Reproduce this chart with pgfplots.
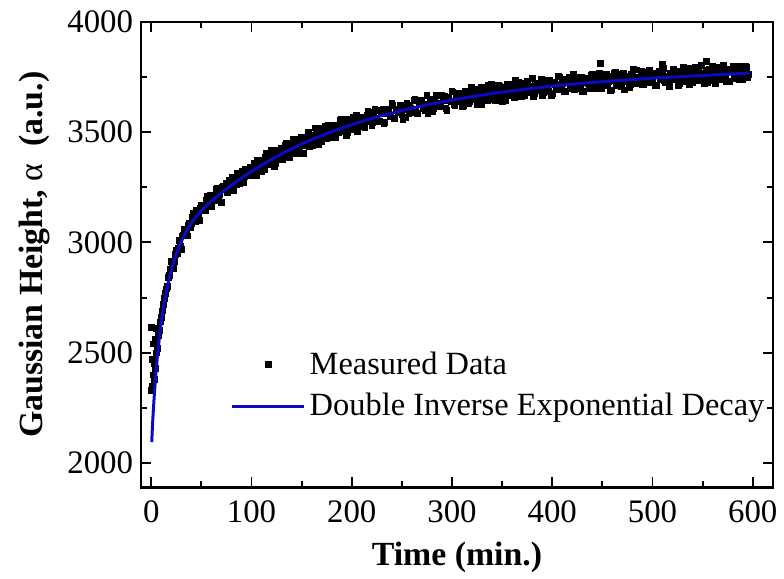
\documentclass[border=0pt]{standalone}
\usepackage{pgfplots}
\pgfplotsset{compat=1.18}
\usepackage{fontspec}
\setmainfont{Liberation Serif}
\definecolor{fitblue}{RGB}{10,10,195}
\begin{document}
\begin{tikzpicture}
\begin{axis}[
  name=ax,
  scale only axis, width=317.5pt, height=234pt,
  xmin=-10, xmax=620, ymin=1890, ymax=4000,
  clip mode=individual,
  xtick={0,100,...,600}, ytick={2000,2500,...,4000},
  minor x tick num=1, minor y tick num=1,
  tick align=inside, tick pos=both,
  major tick length=5pt, minor tick length=3pt,
  axis line style={line width=1.2pt},
  every tick/.style={line width=1pt, black},
  /pgf/number format/assume math mode=true,
  /pgf/number format/1000 sep={},
  ticklabel style={font=\fontsize{16.5}{19}\selectfont},
  yticklabel style={xshift=-0.6pt},
  xticklabel style={yshift=-3.4pt},
  xlabel={Time (min.)},
  ylabel={Gaussian Height, {\mdseries α}\ \ (a.u.)},
  every axis x label/.style={at={(axis description cs:0.5,-0.1496)},anchor=center},
  every axis y label/.style={at={(axis description cs:-0.1685,0.5)},rotate=90,anchor=center},
  label style={font=\bfseries\fontsize{17}{20}\selectfont},
  legend style={draw=none, fill=none, font=\fontsize{16.3}{19}\selectfont,
    at={(0.131,0.309)}, anchor=north west, row sep=4pt},
  legend cell align=left,
  legend image code/.code={\draw[mark repeat=2,mark phase=2,#1] plot coordinates {(0cm,0cm) (0.64cm,0cm) (1.28cm,0cm)};},
]
\addplot[only marks, mark=square*, mark size=1.45pt, black] coordinates {
(0,2615)(0,2330)(1,2350)(1,2470)(2,2400)(2,2540)(3,2380)(3,2450)(4,2430)(4,2560)
(5,2500)(5,2610)(6,2520)(7,2580)(8,2600)(9,2640)(10,2660)(11,2690)(12,2720)(13,2745)
(14,2770)(15,2790)(16,2800)(17,2840)(18,2850)(19,2880)
(20,2913)(22,2883)(24,2945)(26,2950)(28,3009)(30,2969)(32,3031)(34,3061)(36,3030)(38,3087)
(40,3084)(42,3132)(44,3094)(46,3125)(48,3100)(50,3169)(52,3162)(54,3146)(56,3209)(58,3174)
(60,3162)(62,3214)(64,3191)(66,3244)(68,3218)(70,3183)(72,3254)(74,3249)(76,3226)(78,3283)
(80,3254)(82,3234)(84,3289)(86,3315)(88,3268)(90,3296)(92,3270)(94,3330)(96,3318)(98,3302)
(100,3340)(102,3306)(104,3340)(106,3374)(108,3333)(110,3321)(112,3368)(114,3388)(116,3361)(118,3352)
(120,3417)(122,3386)(124,3359)(126,3406)(128,3387)(130,3426)(132,3388)(134,3441)(136,3412)(138,3387)
(140,3435)(142,3466)(144,3410)(146,3441)(148,3429)(150,3475)(152,3405)(154,3471)(156,3467)(158,3437)
(160,3487)(162,3463)(164,3519)(166,3463)(168,3482)(170,3456)(172,3501)(174,3525)(176,3476)(178,3506)
(180,3491)(182,3533)(184,3474)(186,3527)(188,3512)(190,3557)(192,3504)(194,3533)(196,3500)(198,3553)
(200,3532)(202,3567)(204,3526)(206,3503)(208,3558)(210,3569)(212,3527)(214,3560)(216,3593)(218,3550)
(220,3530)(222,3581)(224,3563)(226,3598)(228,3550)(230,3585)(232,3539)(234,3604)(236,3586)(238,3571)
(240,3629)(242,3563)(244,3605)(246,3588)(248,3624)(250,3582)(252,3602)(254,3568)(256,3622)(258,3614)
(260,3588)(262,3644)(264,3606)(266,3584)(268,3632)(270,3644)(272,3606)(274,3626)(276,3584)(278,3648)
(280,3638)(282,3606)(284,3667)(286,3625)(288,3617)(290,3667)(292,3644)(294,3608)(296,3660)(298,3642)
(300,3686)(302,3626)(304,3661)(306,3641)(308,3678)(310,3618)(312,3663)(314,3677)(316,3630)(318,3674)
(320,3657)(322,3695)(324,3646)(326,3668)(328,3633)(330,3693)(332,3678)(334,3656)(336,3711)(338,3668)
(340,3649)(342,3695)(344,3666)(346,3713)(348,3680)(350,3640)(352,3705)(354,3694)(356,3665)(358,3717)
(360,3682)(362,3657)(364,3706)(366,3727)(368,3674)(370,3697)(372,3666)(374,3722)(376,3705)(378,3684)
(380,3743)(382,3676)(384,3713)(386,3694)(388,3723)(390,3666)(392,3737)(394,3708)(396,3685)(398,3722)
(400,3675)(402,3728)(404,3709)(406,3752)(408,3697)(410,3720)(412,3684)(414,3739)(416,3726)(418,3697)
(420,3734)(422,3693)(424,3723)(426,3750)(428,3711)(430,3686)(432,3736)(434,3745)(436,3720)(438,3707)
(440,3763)(442,3728)(444,3697)(446,3739)(448,3720)(450,3755)(452,3710)(454,3764)(456,3729)(458,3691)
(460,3740)(462,3765)(464,3712)(466,3738)(468,3723)(470,3763)(472,3692)(474,3755)(476,3743)(478,3714)
(480,3761)(482,3733)(484,3782)(486,3726)(488,3743)(490,3714)(492,3752)(494,3773)(496,3725)(498,3752)
(500,3735)(502,3769)(504,3712)(506,3758)(508,3745)(510,3783)(512,3732)(514,3754)(516,3723)(518,3769)
(520,3750)(522,3778)(524,3739)(526,3713)(528,3766)(530,3770)(532,3731)(534,3757)(536,3788)(538,3746)
(540,3725)(542,3769)(544,3754)(546,3782)(548,3737)(550,3769)(552,3722)(554,3780)(556,3765)(558,3747)
(560,3800)(562,3736)(564,3777)(566,3757)(568,3792)(570,3748)(572,3767)(574,3731)(576,3784)(578,3774)
(580,3783)(582,3743)(584,3772)(586,3800)(588,3755)(590,3737)(592,3779)(594,3794)(596,3762)
(448,3812)(554,3822)(510,3808)(329,3626)
(21,2901)(23,2913)(25,2966)(27,2975)(29,2984)(31,3030)(33,3058)(35,3050)(37,3076)(39,3067)
(41,3116)(43,3114)(45,3148)(47,3125)(49,3154)(51,3168)(53,3150)(55,3191)(57,3182)(59,3212)
(61,3190)(63,3212)(65,3241)(67,3204)(69,3238)(71,3249)(73,3238)(75,3269)(77,3244)(79,3271)
(81,3295)(83,3278)(85,3264)(87,3305)(89,3299)(91,3323)(93,3297)(95,3325)(97,3319)(99,3343)
(101,3309)(103,3359)(105,3303)(107,3353)(109,3372)(111,3346)(113,3333)(115,3403)(117,3374)(119,3355)
(121,3394)(123,3345)(125,3420)(127,3393)(129,3418)(131,3374)(133,3417)(135,3450)(137,3405)(139,3445)
(141,3404)(143,3434)(145,3469)(147,3405)(149,3461)(151,3439)(153,3479)(155,3439)(157,3501)(159,3461)
(161,3441)(163,3485)(165,3497)(167,3443)(169,3490)(171,3518)(173,3479)(175,3473)(177,3532)(179,3502)
(181,3529)(183,3477)(185,3522)(187,3499)(189,3556)(191,3515)(193,3542)(195,3485)(197,3558)(199,3523)
(201,3540)(203,3513)(205,3578)(207,3559)(209,3528)(211,3558)(213,3519)(215,3578)(217,3557)(219,3591)
(221,3546)(223,3606)(225,3561)(227,3547)(229,3586)(231,3602)(233,3543)(235,3585)(237,3602)(239,3572)
(241,3622)(243,3562)(245,3599)(247,3591)(249,3621)(251,3559)(253,3617)(255,3633)(257,3585)(259,3609)
(261,3597)(263,3649)(265,3583)(267,3629)(269,3645)(271,3611)(273,3597)(275,3667)(277,3609)(279,3633)
(281,3593)(283,3651)(285,3630)(287,3666)(289,3616)(291,3648)(293,3665)(295,3599)(297,3659)(299,3639)
(301,3683)(303,3623)(305,3658)(307,3676)(309,3639)(311,3623)(313,3686)(315,3660)(317,3637)(319,3703)
(321,3652)(323,3682)(325,3627)(327,3679)(329,3702)(331,3652)(333,3675)(335,3645)(337,3696)(339,3715)
(341,3670)(343,3644)(345,3695)(347,3708)(349,3665)(351,3689)(353,3644)(355,3717)(357,3678)(359,3708)
(361,3665)(363,3734)(365,3679)(367,3694)(369,3663)(371,3720)(373,3691)(375,3733)(377,3678)(379,3709)
(381,3662)(383,3723)(385,3708)(387,3689)(389,3738)(391,3679)(393,3720)(395,3701)(397,3736)(399,3665)
(401,3728)(403,3715)(405,3692)(407,3751)(409,3704)(411,3738)(413,3683)(415,3724)(417,3747)(419,3702)
(421,3761)(423,3697)(425,3732)(427,3717)(429,3748)(431,3684)(433,3739)(435,3726)(437,3697)(439,3759)
(441,3714)(443,3749)(445,3721)(447,3768)(449,3699)(451,3740)(453,3758)(455,3713)(457,3735)(459,3692)
(461,3753)(463,3770)(465,3720)(467,3741)(469,3709)(471,3766)(473,3729)(475,3753)(477,3704)(479,3763)
(481,3783)(483,3720)(485,3748)(487,3729)(489,3774)(491,3714)(493,3757)(495,3741)(497,3782)(499,3729)
(501,3767)(503,3710)(505,3756)(507,3775)(509,3739)(511,3788)(513,3724)(515,3755)(517,3709)(519,3768)
(521,3784)(523,3737)(525,3753)(527,3722)(529,3778)(531,3795)(533,3733)(535,3764)(537,3718)(539,3775)
(541,3749)(543,3792)(545,3732)(547,3769)(549,3803)(551,3742)(553,3762)(555,3727)(557,3787)(559,3750)
(561,3780)(563,3721)(565,3793)(567,3770)(569,3740)(571,3803)(573,3749)(575,3786)(577,3730)(579,3779)
(581,3801)(583,3746)(585,3770)(587,3737)(589,3791)(591,3759)(593,3798)(595,3750)
};
\addlegendentry{Measured Data}
\addplot[fitblue, line width=1.5pt] coordinates {
(0.5,2095)(1,2150)(2,2235)(3,2305)(4,2370)(5,2425)(6,2478)(7,2522)(8,2565)(9,2603)
(10,2640)(12,2700)(14,2750)(16,2797)(18,2840)(22,2905)(26,2960)(30,3005)(35,3050)(40,3088)
(45,3118)(50,3145)(60,3188)(70,3225)(80,3260)(90,3292)(100,3322)(115,3364)(130,3402)(150,3447)
(175,3494)(200,3534)(225,3569)(250,3598)(275,3624)(300,3646)(325,3665)(350,3682)(375,3696)(400,3709)
(425,3720)(450,3729)(475,3737)(500,3745)(525,3751)(550,3757)(575,3763)(597,3768)
};
\addlegendentry{Double Inverse Exponential Decay}
\end{axis}
\path[use as bounding box] ([shift={(-71pt,-45pt)}]ax.south west) rectangle ([shift={(3.5pt,11pt)}]ax.north east);
\end{tikzpicture}
\end{document}
